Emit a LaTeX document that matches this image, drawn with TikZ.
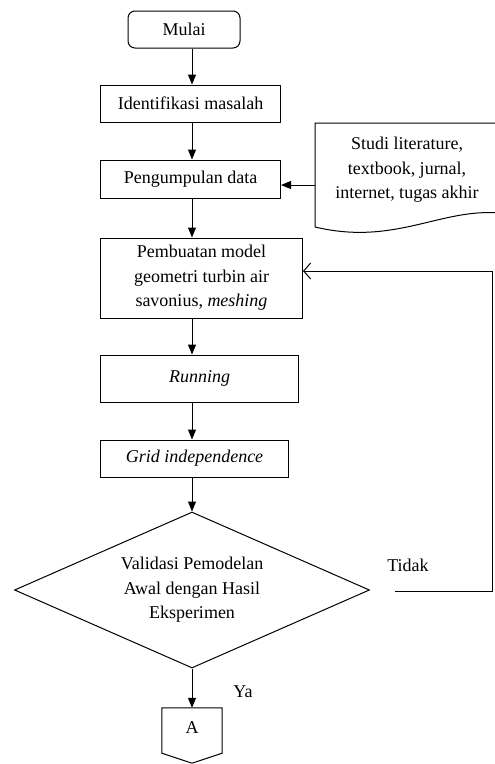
\documentclass[tikz,border=0pt]{standalone}
\usepackage{fontspec}
\setmainfont{Liberation Serif}
\usetikzlibrary{shapes.geometric, arrows.meta, positioning, calc}

\begin{document}
\begin{tikzpicture}[x=1pt, y=-1pt,
  pbox/.style={draw, line width=1pt, minimum height=37pt, inner sep=2pt, anchor=west, font=\fontsize{18}{24.5}\selectfont},
  lbl/.style={font=\fontsize{18}{24.5}\selectfont},
  arr/.style={-{Triangle[width=8pt,length=10pt]}, line width=1pt},
  back/.style={-{Straight Barb[length=7pt,width=16pt]}, line width=1pt}
]
  \useasboundingbox (0,0) rectangle (495,764);

  % main column
  \node[pbox, anchor=center, rounded corners=7pt, minimum width=112pt] (mulai) at (184,29.5) {Mulai};
  \node[pbox, minimum width=180pt] (identifikasi) at (100,103.5) {Identifikasi masalah};
  \node[pbox, minimum width=180pt, minimum height=38pt] (pengumpulan) at (100,179) {Pengumpulan data};
  \node[pbox, minimum width=202pt, minimum height=80pt, align=center] (pembuatan) at (100,278) {Pembuatan model\\ geometri turbin air\\ savonius, \textit{meshing}};
  \node[pbox, minimum width=198pt, minimum height=47pt] (running) at (100,378.5) {\textit{Running}};
  \node[pbox, minimum width=188pt] (grid) at (100,458.5) {\textit{Grid independence}};
  \node[pbox, anchor=center, diamond, aspect=2.3, inner sep=0pt, minimum width=355pt, minimum height=156pt, align=center] (validasi) at (192,590) {Validasi Pemodelan\\ Awal dengan Hasil\\ Eksperimen};

  % literature document
  \draw[line width=1pt] (315,123) -- (500,123) -- (500,213) .. controls (440,208) and (395,246) .. (315,227) -- cycle;
  \node[lbl, align=center] (studi) at (407,170) {Studi literature,\\ textbook, jurnal,\\ internet, tugas akhir};
  \coordinate (docw) at (315,185);

  % off-page connector
  \node[inner sep=0pt, minimum width=60pt, minimum height=55pt] (offA) at (192,735.5) {};
  \draw[line width=1pt] (offA.north west) -- (offA.north east) -- ([yshift=10pt]offA.south east) -- (offA.south) -- ([yshift=10pt]offA.south west) -- cycle;
  \node[lbl] (labelA) at ([yshift=8pt]offA.center) {A};

  % connectors
  \draw[arr] (mulai.south -| validasi) -- (identifikasi.north -| validasi);
  \draw[arr] (identifikasi.south -| validasi) -- (pengumpulan.north -| validasi);
  \draw[arr] (pengumpulan.south -| validasi) -- (pembuatan.north -| validasi);
  \draw[arr] (pembuatan.south -| validasi) -- (running.north -| validasi);
  \draw[arr] (running.south -| validasi) -- (grid.north -| validasi);
  \draw[arr] (grid.south -| validasi) -- (validasi.north);
  \draw[arr] (validasi.south) -- (offA.north);
  \draw[arr] (docw) -- (docw -| pengumpulan.east);

  % loop back
  \coordinate (tidakend) at (395,591);
  \draw[back] (tidakend) -- ++(97,0) |- ([yshift=7pt]pembuatan.east);
  \node[lbl] (tidak) at (408,565) {Tidak};
  \node[lbl] (ya) at (243,692) {Ya};
\end{tikzpicture}
\end{document}
